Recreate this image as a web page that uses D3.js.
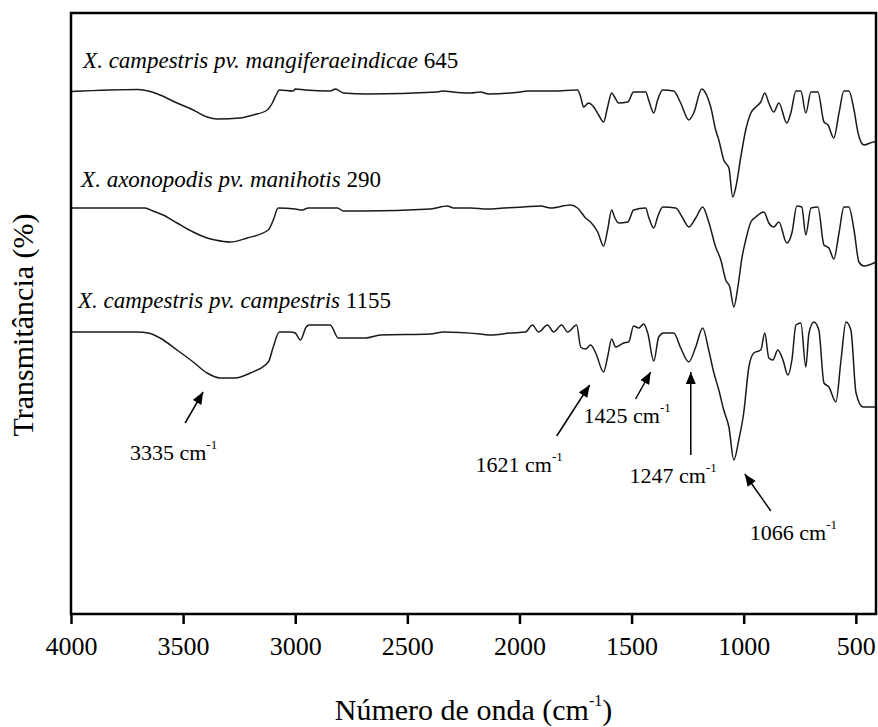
<!DOCTYPE html>
<html>
<head>
<meta charset="utf-8">
<script src="https://cdn.jsdelivr.net/npm/d3@7"></script>
<style>
  html, body { margin: 0; padding: 0; background: #fff; }
  svg { display: block; font-family: "Liberation Serif", "Times New Roman", serif; }
  svg text { font-family: "Liberation Serif", "Times New Roman", serif; }
</style>
</head>
<body>
<svg id="chart" width="878" height="727"></svg>
<script>
// ---- Data (wavenumber cm^-1, relative transmittance with vertical offset) ----
const xTicks = [4000, 3500, 3000, 2500, 2000, 1500, 1000, 500];

const seriesNames = [
  "X. campestris pv. mangiferaeindicae",
  "X. axonopodis pv. manihotis",
  "X. campestris pv. campestris"
];
const seriesCodes = ["645", "290", "1155"];
const labelPos = [[3946, 109.2], [3955, 85.4], [3969, 61.2]];

const mangiferaeindicae645 = [
  [4000,104.5],[3701,104.9],[3647,104.5],[3603,103.8],[3527,102.2],[3455,100.8],[3393,99.4],
  [3348,99],[3245,99.2],[3187,99.8],[3125,100.8],[3102,102.2],[3085,103.8],[3071,104.8],
  [3009,104.6],[3000,105],[2955,104.8],[2844,104.6],[2821,105],[2785,104.2],[2678,104],
  [2366,104.4],[2343,104.6],[2276,104.3],[2218,104.2],[2174,104.4],[2138,104],[2040,104.2],
  [1995,104.4],[1964,104.6],[1906,104.6],[1848,104.6],[1741,104.8],[1727,103.4],[1714,101.4],
  [1692,102.2],[1669,101.4],[1647,99.8],[1625,98.4],[1607,101.4],[1589,104.2],[1576,103.4],
  [1558,102.2],[1517,102.4],[1491,104.4],[1437,104.4],[1424,102.8],[1401,100.2],[1384,102.8],
  [1361,104.8],[1312,104.6],[1281,102.2],[1245,98.8],[1223,100.2],[1187,105],[1160,103.2],
  [1147,101.4],[1125,96.8],[1111,94.8],[1089,90.8],[1066,89.2],[1049,83.4],[1035,85.4],
  [1013,91.4],[991,96.8],[968,100.2],[946,101.4],[924,102.4],[906,104.2],[888,102.2],
  [866,100.4],[843,102.2],[808,98.2],[790,100.2],[767,104.6],[745,104.6],[723,100.2],
  [700,104.4],[669,104.4],[642,98.4],[624,97.8],[598,95.2],[575,100.2],[553,104.6],
  [531,104.6],[508,100.8],[490,96.2],[464,93.8],[419,94.4],[410,94.4]
];

const manihotis290 = [
  [4000,81.2],[3670,81.2],[3634,80.6],[3589,79.8],[3527,78.2],[3455,76.4],[3393,75.2],
  [3357,74.8],[3290,74.4],[3214,75.2],[3120,76.8],[3098,78.8],[3076,81.2],[3000,81],
  [2969,80.8],[2942,81.2],[2812,81.2],[2785,80.6],[2696,80.6],[2397,81],[2321,81.6],
  [2294,81.2],[2218,81.2],[2143,81],[2071,81.2],[1982,81.4],[1906,81.6],[1861,81.2],
  [1772,81.8],[1741,81.2],[1705,79.2],[1683,78.4],[1651,76.4],[1625,73.6],[1607,76.8],
  [1589,80.8],[1576,79.4],[1558,78.2],[1517,78.4],[1491,80.8],[1437,81.2],[1424,79.4],
  [1401,77.2],[1384,79.4],[1361,81.4],[1303,81.2],[1272,79.2],[1245,77.4],[1214,79.2],
  [1183,81.4],[1156,78.4],[1125,73.4],[1102,70.8],[1080,66.8],[1062,65.4],[1044,61.4],
  [1026,65.4],[1008,71.2],[991,74.8],[968,78.4],[946,79.4],[910,80.4],[888,78.2],
  [866,77.4],[843,78.4],[808,74.2],[785,76.2],[763,81.6],[741,81.4],[723,75.8],
  [700,81.2],[669,81.4],[642,73.8],[620,73.2],[598,71],[575,76.2],[553,81.4],
  [531,81.4],[508,76.8],[486,70.4],[464,69.6],[410,70.4]
];

const campestris1155 = [
  [4000,56.4],[3705,56.4],[3656,56.2],[3603,55.2],[3527,52.8],[3455,50.4],[3393,48.2],
  [3335,47.2],[3268,47.2],[3201,48.2],[3120,50.4],[3098,53.4],[3071,56.4],[3022,56.4],
  [3000,56.2],[2977,54.8],[2951,57.4],[2937,57.8],[2844,57.8],[2808,55.2],[2687,55.2],
  [2620,55.8],[2397,56],[2339,56.4],[2174,56],[2129,55.8],[2040,56.2],[1973,56.4],
  [1942,57.8],[1915,56.4],[1875,57.8],[1848,56.4],[1812,57.8],[1785,56.4],[1745,57.8],
  [1727,53.4],[1705,53],[1683,53.8],[1660,52.2],[1625,48.4],[1607,51.4],[1589,55],
  [1571,53.4],[1535,54.2],[1513,54.4],[1491,57.6],[1468,57.2],[1446,58],[1428,56.2],
  [1401,50.6],[1379,55.4],[1357,56.2],[1312,56.2],[1281,53.2],[1245,50.4],[1214,53.4],
  [1183,57.2],[1156,52.8],[1134,48.4],[1111,44.8],[1089,40.8],[1066,37.4],[1044,30.8],
  [1022,34.8],[1000,40.2],[977,49.4],[955,52.2],[924,52.8],[906,56.2],[888,51.2],
  [870,50.8],[848,52.8],[825,50.8],[803,47.8],[785,50.8],[767,57.8],[745,58.2],
  [723,49.4],[709,56.2],[687,58.4],[665,56.8],[642,46.2],[620,45.4],[589,42.4],
  [566,50.8],[544,58.4],[522,56.8],[499,44.2],[468,41.4],[410,41.4]
];

// annotations: label, arrow tail [w, v], arrow head [w, v], label anchor [w, v]
const annLabels = ["3335", "1621", "1425", "1247", "1066"];
const annTails  = [[3491,38.2],[1834,35.6],[1482,43],[1236,31.8],[879,20.6]];
const annHeads  = [[3411,44.4],[1687,45.8],[1415,48.4],[1236,48.4],[995,28]];
const annText   = [[3737,30.8],[2196,28.4],[1714,38.2],[1509,26.2],[973,14.8]];

// ---- Layout ----
const FONT = '"Liberation Serif", "Times New Roman", serif';
const svg = d3.select("#chart");
const x = d3.scaleLinear().domain([4000, 410]).range([71, 876]);
const y = d3.scaleLinear().domain([0, 120]).range([614, 14]);

// traces
const line = d3.line().x(d => x(d[0])).y(d => y(d[1])).curve(d3.curveMonotoneX);
[mangiferaeindicae645, manihotis290, campestris1155].forEach(s => {
  svg.append("path").datum(s.slice().sort((a, b) => a[0] - b[0]))
    .attr("d", line)
    .attr("fill", "none")
    .attr("stroke", "#1a1a1a")
    .attr("stroke-width", 1.5)
    .attr("stroke-linejoin", "round");
});

// frame
svg.append("rect")
  .attr("x", x(4000)).attr("y", y(120) - 1)
  .attr("width", x(410) - x(4000)).attr("height", y(0) - y(120) + 1)
  .attr("fill", "none").attr("stroke", "#000").attr("stroke-width", 2.5);

// x axis
const xAxis = d3.axisBottom(x).tickValues(xTicks).tickSize(10).tickFormat(d3.format("d"));
const gx = svg.append("g").attr("transform", `translate(0,${y(0)})`).call(xAxis)
  .attr("font-family", FONT).attr("font-size", 26);
gx.select(".domain").remove();
gx.selectAll(".tick line").attr("stroke", "#000").attr("stroke-width", 2.5);
gx.selectAll(".tick text")
  .attr("y", 41).attr("dy", 0)
  .attr("fill", "#000")
  .style("font-family", FONT)
  .style("font-size", "26px");

// axis titles
const xt = svg.append("text")
  .attr("x", (x(4000) + x(410)) / 2).attr("y", 720)
  .attr("text-anchor", "middle").style("font-size", "30px").attr("fill", "#000");
xt.append("tspan").text("Número de onda (cm");
xt.append("tspan").text("-1").style("font-size", "16px").attr("dy", -14);
xt.append("tspan").text(")").attr("dy", 14);

svg.append("text")
  .attr("transform", `translate(33,325) rotate(-90)`)
  .attr("text-anchor", "middle").style("font-size", "30px").attr("fill", "#000")
  .text("Transmitância (%)");

// series labels
seriesNames.forEach((n, i) => {
  const t = svg.append("text")
    .attr("x", x(labelPos[i][0])).attr("y", y(labelPos[i][1]))
    .style("font-size", "23px").attr("fill", "#000");
  t.append("tspan").text(n + " ").style("font-style", "italic");
  t.append("tspan").text(seriesCodes[i]);
});

// arrow marker
svg.append("defs").append("marker")
  .attr("id", "ah").attr("viewBox", "0 0 12 10")
  .attr("refX", 12).attr("refY", 5)
  .attr("markerWidth", 13).attr("markerHeight", 10)
  .attr("markerUnits", "userSpaceOnUse")
  .attr("orient", "auto")
  .append("path").attr("d", "M0,0 L12,5 L0,10 Z").attr("fill", "#000");

annLabels.forEach((lab, i) => {
  svg.append("line")
    .attr("x1", x(annTails[i][0])).attr("y1", y(annTails[i][1]))
    .attr("x2", x(annHeads[i][0])).attr("y2", y(annHeads[i][1]))
    .attr("stroke", "#000").attr("stroke-width", 1.5)
    .attr("marker-end", "url(#ah)");
  const t = svg.append("text")
    .attr("x", x(annText[i][0])).attr("y", y(annText[i][1]))
    .style("font-size", "22px").attr("fill", "#000");
  t.append("tspan").text(lab + " cm");
  t.append("tspan").text("-1").style("font-size", "13px").attr("dy", -11);
});
</script>
</body>
</html>
